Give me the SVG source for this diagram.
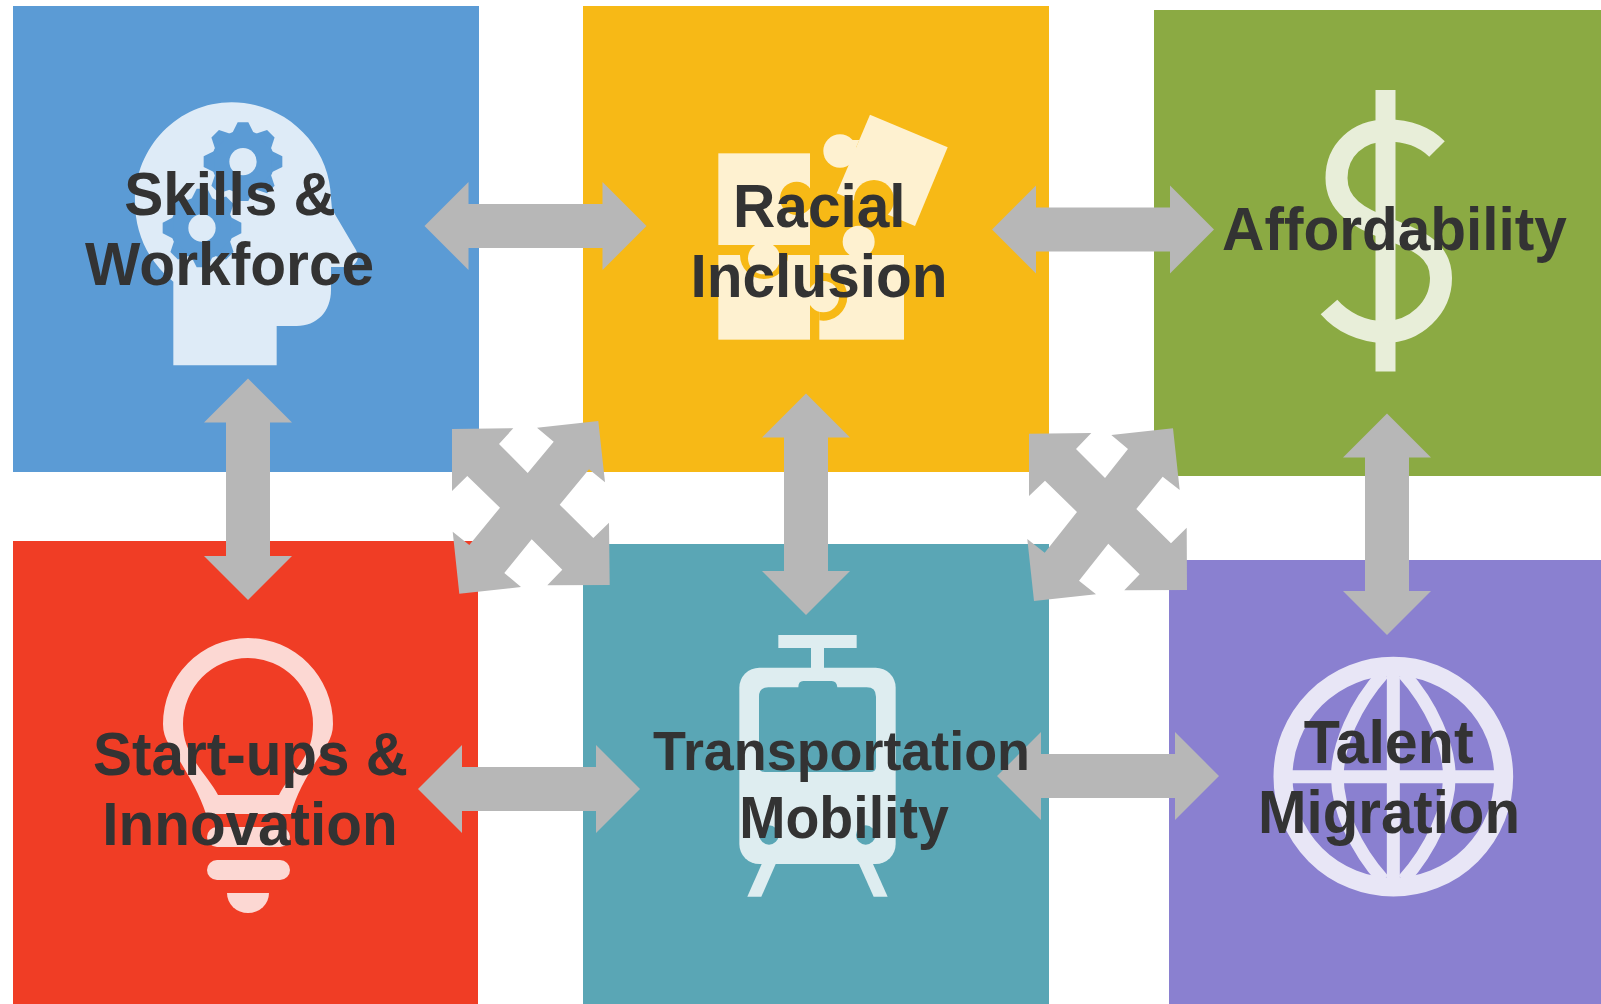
<svg xmlns="http://www.w3.org/2000/svg" width="1601" height="1004" viewBox="0 0 1601 1004">
<style>
text{font-family:"Liberation Sans",Arial,sans-serif;font-weight:700;font-size:61px;fill:#333;text-anchor:middle}
.conn{fill:#b7b7b7}
</style>
<defs>
<g id="arrow-h"><polygon points="0,0 44,-44 44,-22 178,-22 178,-44 222,0 178,44 178,22 44,22 44,44"/></g>
<g id="gear" fill="#5b9bd5">
<circle r="94"/>
<polygon id="tooth" points="-32,-86 -16,-118 16,-118 32,-86"/>
<use href="#tooth" transform="rotate(45)"/><use href="#tooth" transform="rotate(90)"/><use href="#tooth" transform="rotate(135)"/><use href="#tooth" transform="rotate(180)"/><use href="#tooth" transform="rotate(225)"/><use href="#tooth" transform="rotate(270)"/><use href="#tooth" transform="rotate(315)"/>
<circle r="41" fill="#deebf7"/>
</g>
</defs>
<rect width="1601" height="1004" fill="#fff"/>
<g id="tiles">
<rect id="tile-skills" x="13" y="6" width="466" height="466" fill="#5b9bd5"/>
<rect id="tile-racial" x="583" y="6" width="466" height="466" fill="#f7b916"/>
<rect id="tile-affordability" x="1154" y="10" width="447" height="466" fill="#8baa43"/>
<rect id="tile-startups" x="13" y="541" width="465" height="463" fill="#f03d25"/>
<rect id="tile-transportation" x="583" y="544" width="466" height="460" fill="#5aa6b5"/>
<rect id="tile-talent" x="1169" y="560" width="432" height="444" fill="#8a80d0"/>
</g>
<g id="connectors" class="conn">
<use href="#arrow-h" x="424.5" y="226"/>
<use href="#arrow-h" x="992" y="229.5"/>
<use href="#arrow-h" x="418" y="789"/>
<use href="#arrow-h" x="997" y="776"/>
<polygon points="248,378.5 292,422.5 270,422.5 270,556 292,556 248,600 204,556 226,556 226,422.5 204,422.5"/>
<polygon points="806,393.5 850,437.5 828,437.5 828,571 850,571 806,615 762,571 784,571 784,437.5 762,437.5"/>
<polygon points="1387,413.5 1431,457.5 1409,457.5 1409,591 1431,591 1387,635 1343,591 1365,591 1365,457.5 1343,457.5"/>
<polygon points="452,429 513.3,428.3 499,444 527.7,473 553.7,441.7 537,427.7 598.3,421 605,482.3 589,469.3 559.7,504.7 593.3,538 609,522.7 609.7,585 547.3,585.3 562.3,569.7 531.7,539.3 504.3,573 521,587 459.3,593.7 452.7,531.7 469.3,545 500,507.7 467.3,476 452,491"/>
<polygon points="1029,433.7 1091.3,433 1076,449 1105,478 1128,449 1111.3,435 1173,428.3 1179.7,490 1162.7,476.7 1136.3,509 1171,543.3 1186.7,527.7 1187,590 1124.3,590.3 1139.7,574.3 1108.3,543.7 1079,580.7 1096,594.3 1034,601 1027.3,539 1044.7,552.7 1077,512 1045,480.7 1029,496"/>
</g>
<g id="node-skills">
<g transform="translate(120 90) scale(.33333)">
<path fill="#deebf7" d="M160 826V575C85 515 45 430 45 335C45 170 175 37 335 37C495 37 630 165 633 325L636 358L708 480Q722 510 700 525Q695 531 680 531H633V600C633 665 590 708 530 708H470V826Z"/>
<use href="#gear" x="369" y="215"/>
<use href="#gear" x="246" y="414"/>
</g>
<text transform="translate(230 214.5) scale(.96 1)">Skills &amp;</text>
<text transform="translate(229.6 284.5) scale(.962 1)">Workforce</text>
</g>
<g id="node-racial">
<g transform="translate(700 100) scale(.33333)">
<g fill="#fef1d0">
<rect x="55" y="160" width="275" height="275"/>
<rect x="55" y="465" width="275" height="254"/>
<rect x="358" y="465" width="254" height="254"/>
<polygon points="510,44 743,142 645,378 410,280"/>
</g>
<g fill="#f7b916">
<circle cx="290" cy="295" r="50"/>
<path d="M120 465A72 72 0 0 0 264 465Z"/>
<path d="M358 519A72 72 0 1 1 358 661Z"/>
<circle cx="522" cy="300" r="60"/>
</g>
<g fill="#fef1d0">
<circle cx="192" cy="475" r="48"/>
<circle cx="370" cy="590" r="47"/>
<circle cx="476" cy="425" r="48"/>
<circle cx="420" cy="153" r="50"/>
<polygon points="435,120 478,120 448,190 425,190"/>
</g>
</g>
<text transform="translate(819.3 227) scale(.96 1)">Racial</text>
<text transform="translate(819 297) scale(.96 1)">Inclusion</text>
</g>
<g id="node-affordability">
<rect x="1375.5" y="90" width="20" height="281.5" fill="#e8eed9"/>
<path fill="none" stroke="#e8eed9" stroke-width="22" d="M1437 149C1425 137 1408 130.5 1387 130.5C1358 130.5 1336.5 150 1336.5 178C1336.5 205 1358 218 1388 229C1418 240 1441 250 1441 278C1441 308 1415 332 1385 332C1362 332 1342 322 1329 307"/>
<text transform="translate(1394.5 250) scale(.96 1)">Affordability</text>
</g>
<g id="node-startups">
<g fill="#fcd8d3">
<path fill-rule="evenodd" d="M206 814C200 795 190 778 181 763C172 748 163 740 163 724A85 86 0 0 1 333 724C333 740 324 748 315 763C306 778 296 795 291 814ZM218 795H279C284 785 292 775 301 763C309 750 313 740 313 724A65 66 0 0 0 183 724C183 740 188 750 196 763C204 775 213 785 218 795Z"/>
<rect x="207" y="827" width="83" height="20" rx="10"/>
<rect x="207" y="860" width="83" height="20" rx="10"/>
<path d="M227 893H269A21 20 0 0 1 227 893Z"/>
</g>
<text transform="translate(250.5 775) scale(.958 1)">Start-ups &amp;</text>
<text transform="translate(250 845) scale(.958 1)">Innovation</text>
</g>
<g id="node-transportation">
<g transform="translate(720 625) scale(.33333)">
<g fill="#deedf0">
<rect x="175" y="30" width="235" height="39"/>
<rect x="273" y="69" width="39" height="61"/>
<rect x="58" y="128" width="469" height="589" rx="60"/>
<polygon points="125,717 167,717 124,815 82,815"/>
<polygon points="417,717 459,717 503,815 461,815"/>
</g>
<g fill="#5aa6b5">
<path d="M117 215Q117 187 145 187H235Q235 168 250 168H335Q350 168 352 187H440Q468 187 468 215V425Q468 441 450 441H135Q117 441 117 425Z"/>
<circle cx="147" cy="630" r="29"/>
<circle cx="437" cy="630" r="29"/>
</g>
</g>
<text transform="translate(841.5 770) scale(.883 .92)">Transportation</text>
<text transform="translate(844 838) scale(.91 .97)">Mobility</text>
</g>
<g id="node-talent">
<g transform="translate(1260 650) scale(.33333)" fill="none" stroke="#e8e6f6">
<circle cx="400" cy="380" r="331" stroke-width="57"/>
<path stroke-width="39" d="M400 40V720M70 380H730"/>
<path stroke-width="38" d="M370 70C285 165 232 285 232 380C232 475 285 595 370 690M430 70C515 165 568 285 568 380C568 475 515 595 430 690"/>
</g>
<text transform="translate(1388.7 763) scale(.97 1)">Talent</text>
<text transform="translate(1389 833) scale(.955 1)">Migration</text>
</g>
</svg>
